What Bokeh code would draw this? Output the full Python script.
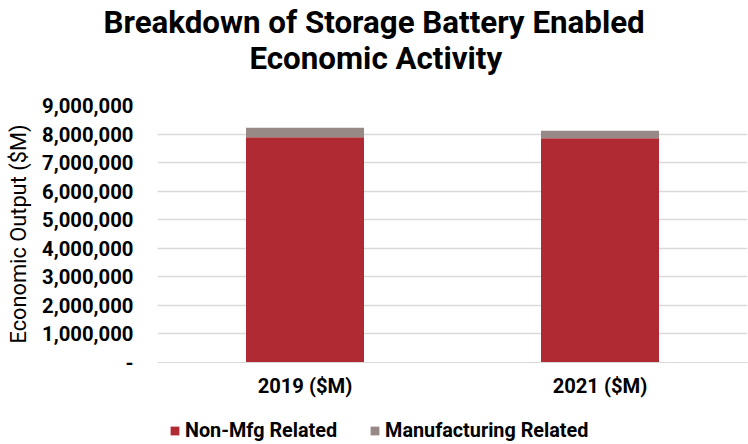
from bokeh.plotting import figure
from bokeh.layouts import column
from bokeh.models import (FactorRange, Range1d, Title, Legend, LegendItem,
                          SingleIntervalTicker, NumeralTickFormatter, ColumnDataSource)
from bokeh.embed import file_html
from bokeh.resources import INLINE

categories = ["2019 ($M)", "2021 ($M)"]
non_mfg = [7890000, 7850000]
mfg = [330000, 270000]
series = ["Non-Mfg Related", "Manufacturing Related"]
colors = ["#B02A33", "#978A86"]
title_lines = ["Breakdown of Storage Battery Enabled", "Economic Activity"]

font = "Roboto"
W = 748

source = ColumnDataSource(data=dict(cat=categories, nonmfg=non_mfg, mfg=mfg))

# ---- main chart ----
p = figure(x_range=FactorRange(*categories), y_range=Range1d(0, 9000000),
           width=W, height=400,
           output_backend="svg", toolbar_location=None,
           min_border_left=157, min_border_right=1, min_border_top=105, min_border_bottom=38)
p.outline_line_color = None
p.background_fill_color = "white"

p.vbar_stack(["nonmfg", "mfg"], x="cat", width=0.4, source=source,
             color=colors, line_color=None)

# title lines (second line is closest to the plot, so it is added first)
p.add_layout(Title(text=title_lines[1], align="left", offset=92, standoff=58,
                   text_font=font, text_font_size="31.3px", text_font_style="bold",
                   text_color="#000000"), "above")
p.add_layout(Title(text=title_lines[0], align="left", offset=-54, standoff=-64,
                   text_font=font, text_font_size="31.3px", text_font_style="bold",
                   text_color="#000000"), "above")

p.yaxis.ticker = SingleIntervalTicker(interval=1000000)
p.yaxis.formatter = NumeralTickFormatter(format="0,0")
p.yaxis.major_label_overrides = {0: "-"}
p.yaxis.axis_line_color = None
p.yaxis.major_tick_line_color = None
p.yaxis.minor_tick_line_color = None
p.yaxis.major_label_text_font = font
p.yaxis.major_label_text_font_size = "20.3px"
p.yaxis.major_label_text_font_style = "bold"
p.yaxis.major_label_text_color = "#000000"
p.yaxis.major_label_standoff = 18
p.yaxis.axis_label = "Economic Output ($M)"
p.yaxis.axis_label_text_font = font
p.yaxis.axis_label_text_font_size = "21.8px"
p.yaxis.axis_label_text_font_style = "normal"
p.yaxis.axis_label_text_color = "#000000"
p.yaxis.axis_label_standoff = 8

p.xaxis.axis_line_color = "#D9D9D9"
p.xaxis.major_tick_line_color = None
p.xaxis.minor_tick_line_color = None
p.xaxis.major_label_text_font = font
p.xaxis.major_label_text_font_size = "20.2px"
p.xaxis.major_label_text_font_style = "bold"
p.xaxis.major_label_text_color = "#000000"
p.xaxis.major_label_standoff = 5

p.xgrid.grid_line_color = None
p.ygrid.ticker = SingleIntervalTicker(interval=1000000)
p.ygrid.grid_line_color = "#D9D9D9"
p.ygrid.grid_line_width = 1.5

# ---- legend strip (same series; its bars are hidden, only the legend shows) ----
lf = figure(width=W, height=44, x_range=FactorRange(*categories), y_range=Range1d(0, 9000000),
            output_backend="svg", toolbar_location=None,
            x_axis_location=None, y_axis_location=None, min_border=0)
lf.outline_line_color = None
lf.grid.visible = False
lr = lf.vbar_stack(["nonmfg", "mfg"], x="cat", width=0.4, source=source,
                   color=colors, line_color=None)
for rr in lr:
    rr.visible = False
legend = Legend(items=[LegendItem(label=series[0], renderers=[lr[0]]),
                       LegendItem(label=series[1], renderers=[lr[1]])],
                orientation="horizontal", location=(12, 2),
                label_text_font=font, label_text_font_size="19.8px",
                label_text_font_style="bold", label_text_color="#000000",
                glyph_width=11, glyph_height=11, spacing=32, label_standoff=5,
                inactive_fill_alpha=0,
                border_line_color=None, background_fill_alpha=0, padding=0, margin=0)
lf.add_layout(legend)

layout = column(p, lf, spacing=0)
open("out.html", "w").write(file_html(layout, INLINE))
